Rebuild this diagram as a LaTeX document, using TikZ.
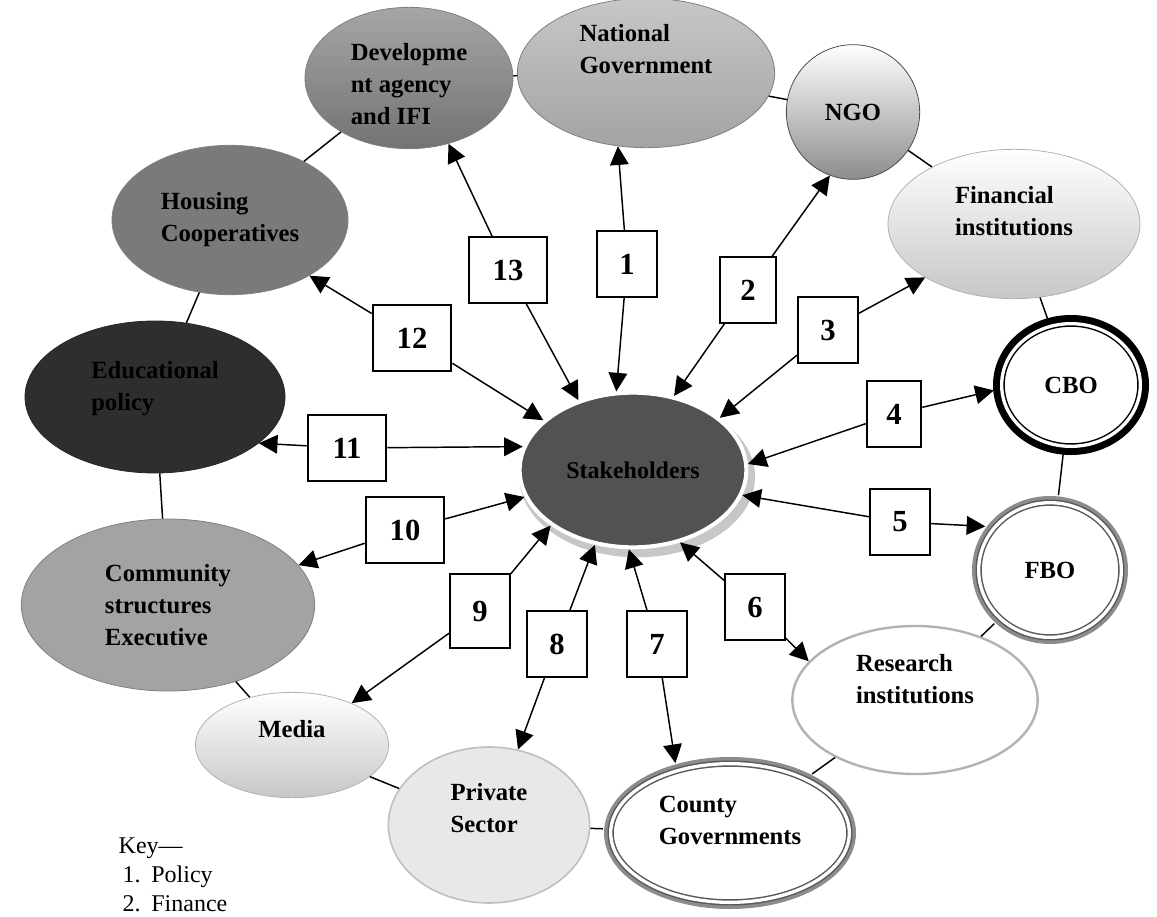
\documentclass[tikz,border=0pt]{standalone}
\usepackage{fontspec}
\setmainfont{Liberation Serif}
\usepackage{tikz}
\usetikzlibrary{shapes.geometric,arrows.meta,positioning,shadows}
\colorlet{cdev}{black!45}
\colorlet{cnat}{black!30}
\colorlet{chouse}{black!52}
\colorlet{cedu}{black!82}
\colorlet{ccomm}{black!36}
\colorlet{cstake}{black!68}
\colorlet{cpriv}{black!9}
\colorlet{cring}{black!45}

\begin{document}
\begin{tikzpicture}[x=0.75pt, y=-0.75pt, >={Triangle[length=14pt,width=14pt]}, line width=1.1pt]
\tikzstyle{ell}=[ellipse, draw=black!50, line width=0.6pt, inner sep=0pt, align=left, font=\fontsize{18.5}{24}\selectfont\bfseries]
\tikzstyle{dbl}=[ell, fill=white, double=white, double distance=2.5pt, line width=1.1pt, outer sep=6pt]
\tikzstyle{num}=[draw=black, fill=white, line width=1.4pt, minimum width=45pt, minimum height=49pt, inner sep=0pt, font=\fontsize{23}{26}\selectfont\bfseries]
\tikzstyle{wide}=[minimum width=59pt]
\tikzstyle{keytxt}=[inner sep=0pt, anchor=base west, font=\fontsize{18}{22}\selectfont]

\useasboundingbox (0,0) rectangle (1157,917);

% outer groups
\node[ell, top color=black!35, bottom color=black!55, minimum width=156pt, minimum height=106pt, text height=70pt] (dev) at (409,78) {Developme\\nt agency\\and IFI};
\node[ell, top color=black!22, bottom color=black!36, minimum width=193pt, minimum height=112pt, text depth=36pt] (natgov) at (646,73) {National\\Government};
\node[ell, top color=white, middle color=black!10, bottom color=black!45, draw=black!70, minimum width=100pt, minimum height=101pt] (ngo) at (853,112) {NGO};
\node[ell, top color=white, middle color=white, bottom color=black!22, draw=black!30, minimum width=189pt, minimum height=112pt, text depth=19pt] (fin) at (1014,224) {Financial\\institutions};
\node[dbl, draw=black, preaction={draw=black, line width=13pt}, minimum width=104pt, minimum height=92pt] (cbo) at (1071,385) {CBO};
\node[dbl, draw=black!65, preaction={draw=cring, line width=10pt}, minimum width=107pt, minimum height=101pt] (fbo) at (1050,570) {FBO};
\node[ell, fill=white, draw=black!30, line width=1.8pt, minimum width=184pt, minimum height=111pt, text depth=32pt] (res) at (915,700) {Research\\institutions};
\node[dbl, draw=black!65, preaction={draw=cring, line width=10pt}, minimum width=179pt, minimum height=104pt, text depth=19pt] (county) at (730,833) {County\\Governments};
\node[ell, fill=cpriv, draw=black!25, line width=1.2pt, minimum width=151pt, minimum height=117pt, text depth=26pt] (priv) at (489,825) {Private\\Sector};
\node[ell, top color=white, middle color=white, bottom color=black!22, draw=black!30, minimum width=145pt, minimum height=79pt, text depth=24pt] (media) at (292,745) {Media};
\node[ell, fill=ccomm, minimum width=220pt, minimum height=129pt] (comm) at (168,605) {Community\\structures\\Executive};
\node[ell, fill=cedu, draw=black!85, minimum width=195pt, minimum height=114pt, text depth=16pt] (edu) at (155,397) {Educational\\policy};
\node[ell, fill=chouse, minimum width=177pt, minimum height=112pt] (housing) at (230,220) {Housing\\Cooperatives};

% centre
\node[ell, fill=cstake, draw=white, line width=3pt, font=\fontsize{18}{22}\selectfont\bfseries, minimum width=170pt, minimum height=116pt, drop shadow={opacity=1, fill=black!22, shadow xshift=3pt, shadow yshift=-5pt, shadow scale=1.04}] (stake) at (633,470) {Stakeholders};

% numbered boxes
\node[num] (b1) at (627,264) {1};
\node[num, minimum width=42pt] (b2) at (748,290) {2};
\node[num] (b3) at (828,330) {3};
\node[num, minimum width=41pt] (b4) at (894,414) {4};
\node[num] (b5) at (900,522) {5};
\node[num] (b6) at (755,607) {6};
\node[num] (b7) at (657,644) {7};
\node[num] (b8) at (557,644) {8};
\node[num, minimum height=56pt] (b9) at (480,611) {9};
\node[num, wide] (b10) at (405,530) {10};
\node[num, wide] (b11) at (347,448) {11};
\node[num, wide] (b12) at (412,338) {12};
\node[num, wide] (b13) at (508,270) {13};

% ring
\draw (dev) -- (natgov) -- (ngo) -- (fin) -- (cbo) -- (fbo) -- (res) -- (county) -- (priv) -- (media) -- (comm) -- (edu) -- (housing) -- (dev);

% arrows
\draw[->]
(b1) edge (natgov.249) edge (stake.102)
(b2) edge (ngo.250) edge (stake.61)
(b3) edge (fin.211) edge (stake.31)
(b4) edge (cbo.184) edge (stake.3)
(b5) edge (fbo.146) edge (stake.-13)
(b6) edge (res.160) edge (stake.-57)
(b7) edge (county.128) edge (stake.-93)
(b8) edge (priv.69) edge (stake.-117)
(b9) edge (media.35) edge (stake.-146)
(b10) edge (comm.17) edge (stake.-166)
(b11) edge (edu.-24) edge (stake.168)
(b12) edge (housing.-35) edge (stake.151)
(b13) edge (dev.-59) edge (stake.128);

% key
\node[keytxt] (key) at (118,853) {Key—};
\node[keytxt] (k1) at (122,882) {1.\hspace{8pt}Policy};
\node[keytxt] (k2) at (122,911) {2.\hspace{8pt}Finance};
\end{tikzpicture}
\end{document}
